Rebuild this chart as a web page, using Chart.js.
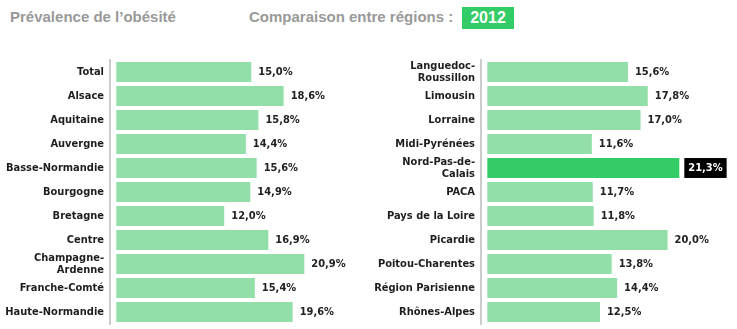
<!DOCTYPE html>
<html lang="fr">
<head>
<meta charset="utf-8">
<script src="https://cdn.jsdelivr.net/npm/chart.js@4"></script>
<style>
  body { margin: 0; background: #fff; }
  #page { position: relative; width: 737px; height: 329px; overflow: hidden; }
  .titre { position: absolute; top: 8px; font: bold 15px/18px 'Liberation Sans', Arial, sans-serif; color: #999; white-space: nowrap; }
  #annee { position: absolute; left: 462px; top: 7px; width: 52px; height: 22px; background: #33cc66; color: #fff;
           font: bold 16px/22px 'Liberation Sans', Arial, sans-serif; text-align: center; }
  canvas { position: absolute; top: 0; }
  #chartGauche { left: 0; }
  #chartDroite { left: 370px; }
</style>
</head>
<body>
<div id="page">
  <div class="titre" style="left:10px">Prévalence de l’obésité</div>
  <div class="titre" style="left:249px">Comparaison entre régions :</div>
  <div id="annee">2012</div>
  <canvas id="chartGauche" width="370" height="329"></canvas>
  <canvas id="chartDroite" width="367" height="329"></canvas>
</div>
<script>
// régions et prévalence (%) — colonne de gauche
const regionsGauche = ['Total', 'Alsace', 'Aquitaine', 'Auvergne', 'Basse-Normandie', 'Bourgogne',
  'Bretagne', 'Centre', ['Champagne-', 'Ardenne'], 'Franche-Comté', 'Haute-Normandie'];
const valeursGauche = [15.0, 18.6, 15.8, 14.4, 15.6, 14.9, 12.0, 16.9, 20.9, 15.4, 19.6];

// colonne de droite
const regionsDroite = [['Languedoc-', 'Roussillon'], 'Limousin', 'Lorraine', 'Midi-Pyrénées',
  ['Nord-Pas-de-', 'Calais'], 'PACA', 'Pays de la Loire', 'Picardie', 'Poitou-Charentes',
  'Région Parisienne', 'Rhônes-Alpes'];
const valeursDroite = [15.6, 17.8, 17.0, 11.6, 21.3, 11.7, 11.8, 20.0, 13.8, 14.4, 12.5];

// région mise en avant
const regionSelectionnee = 'Nord-Pas-de-Calais';

const vertClair = '#92dfa9';
const vertFonce = '#33cc66';
const police = "'DejaVu Sans Condensed', 'DejaVu Sans', sans-serif";

function nomRegion(label) {
  return Array.isArray(label) ? label.join('') : label;
}

function formatPct(v) {
  return v.toFixed(1).replace('.', ',') + '%';
}

// étiquettes de valeur au bout des barres
const etiquettesValeurs = {
  id: 'etiquettesValeurs',
  afterDatasetsDraw(chart) {
    const ctx = chart.ctx;
    const meta = chart.getDatasetMeta(0);
    const labels = chart.data.labels;
    const data = chart.data.datasets[0].data;
    ctx.save();
    ctx.font = 'bold 11px ' + police;
    ctx.textBaseline = 'middle';
    ctx.textAlign = 'left';
    meta.data.forEach(function(bar, i) {
      const texte = formatPct(data[i]);
      if (nomRegion(labels[i]) === regionSelectionnee) {
        const largeur = ctx.measureText(texte).width;
        const x = bar.x + 5;
        ctx.fillStyle = '#000';
        ctx.fillRect(x, bar.y - bar.height / 2, largeur + 8, bar.height);
        ctx.fillStyle = '#fff';
        ctx.fillText(texte, x + 4, bar.y + 0.5);
      } else {
        ctx.fillStyle = '#222';
        ctx.fillText(texte, bar.x + 7, bar.y + 0.5);
      }
    });
    ctx.restore();
  }
};

function creerGraphique(idCanvas, regions, valeurs, largeurAxe, maxX) {
  const ctx = document.getElementById(idCanvas).getContext('2d');
  return new Chart(ctx, {
    type: 'bar',
    data: {
      labels: regions,
      datasets: [{
        data: valeurs,
        backgroundColor: regions.map(r => nomRegion(r) === regionSelectionnee ? vertFonce : vertClair),
        borderWidth: 0,
        categoryPercentage: 1,
        barPercentage: 0.83
      }]
    },
    options: {
      indexAxis: 'y',
      responsive: false,
      animation: false,
      layout: { padding: { top: 60, bottom: 5, left: 0, right: 0 } },
      plugins: {
        legend: { display: false },
        tooltip: { enabled: false }
      },
      scales: {
        x: {
          display: false,
          min: -0.7,
          max: maxX
        },
        y: {
          grid: { display: false, drawTicks: false },
          border: { display: true, color: '#cccccc', width: 2 },
          ticks: {
            autoSkip: false,
            color: '#1e1e1e',
            padding: 6,
            font: { family: police, weight: 'bold', size: 11, lineHeight: 1.1 }
          },
          afterFit: function(scale) {
            scale.width = largeurAxe;
            scale.paddingTop = 0;
            scale.paddingBottom = 0;
          }
        }
      }
    },
    plugins: [etiquettesValeurs]
  });
}

creerGraphique('chartGauche', regionsGauche, valeursGauche, 110, 28.2);
creerGraphique('chartDroite', regionsDroite, valeursDroite, 111, 27.7);
</script>
</body>
</html>
